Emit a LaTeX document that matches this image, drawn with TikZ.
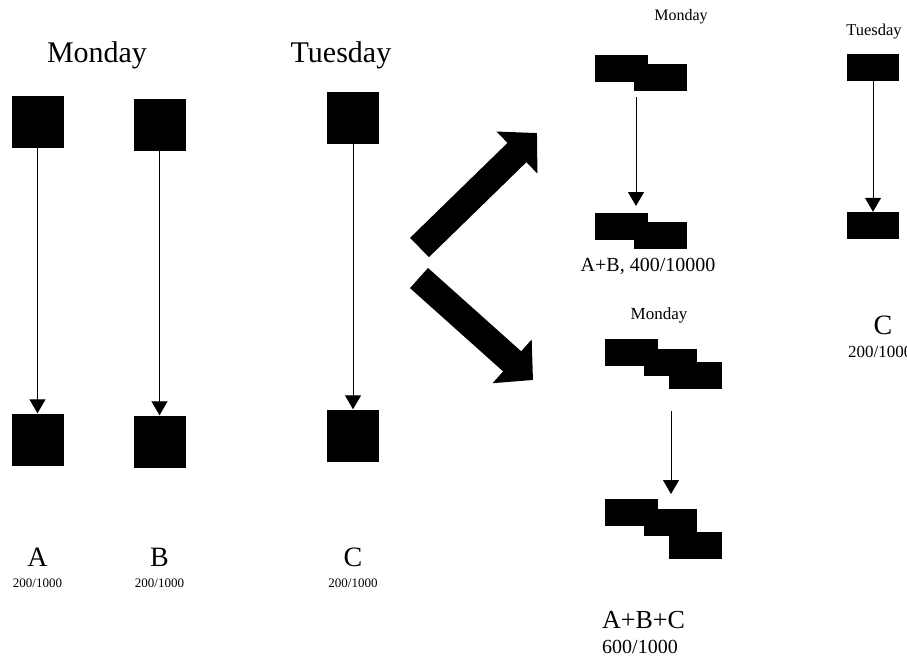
\documentclass[tikz,border=0pt]{standalone}
\usepackage{fontspec}
\setmainfont{Liberation Serif}
\usetikzlibrary{arrows.meta}
\tikzset{
  sq/.style={fill=black,inner sep=0pt,minimum width=52pt,minimum height=52pt},
  bar/.style={fill=black,inner sep=0pt,minimum width=53pt,minimum height=27pt},
  link/.style={-{Triangle[length=14pt,width=16pt]},line width=1pt},
  fat/.style={line width=27pt,-{Triangle[length=28pt,width=57pt]}},
  fs/.style={font=\fontsize{#1}{#1}\selectfont,inner sep=0pt}
}
\begin{document}
\begin{tikzpicture}[x=1pt,y=-1pt]
    \useasboundingbox(0,0)rectangle(907,657);
    % colonna sinistra
    \node[fs=30](mon)at(97,55){Monday};
    \node[fs=30](tue)at(341,55){Tuesday};
    \node[sq](a1)at(37.5,122){};
    \node[sq](a2)at(37.5,439.5){};
    \node[sq](b1)at(159.5,124.5){};
    \node[sq](b2)at(159.5,441.5){};
    \node[sq](c1)at(353,117.5){};
    \node[sq](c2)at(353,435.5){};
    \draw[link](a1)--(a2);
    \draw[link](b1)--(b2);
    \draw[link](c1)--(c2);
    \node[fs=28](la)at(37.5,557){A};
    \node[fs=13]at(37.5,583){200/1000};
    \node[fs=28](lb)at(159.5,557){B};
    \node[fs=13]at(159.5,583){200/1000};
    \node[fs=28](lc)at(353,557){C};
    \node[fs=13]at(353,583){200/1000};

    % frecce grosse
    \coordinate(up0)at(419.5,247.5);
    \coordinate(up1)at(537,133);
    \coordinate(dn0)at(419,278);
    \coordinate(dn1)at(533,380);
    \draw[fat](up0)--(up1);
    \draw[fat](dn0)--(dn1);

    % A+B
    \node[fs=16](mon2)at(681,17){Monday};
    \node[bar](p1)at(621.5,68.5){};
    \node[bar](p2)at(660.5,77.5){};
    \node[bar](q1)at(621.5,226.5){};
    \node[bar](q2)at(660.5,235.5){};
    \coordinate(pq0)at(636,97);
    \coordinate(pq1)at(636,206);
    \draw[link](pq0)--(pq1);
    \node[fs=20](lab)at(648,266){A+B, 400/10000};

    % C
    \node[fs=16.5](tue2)at(874,32){Tuesday};
    \node[bar,minimum width=52pt](t1)at(873,67.5){};
    \node[bar,minimum width=52pt](t2)at(873,225.5){};
    \draw[link](t1)--(t2);
    \node[fs=28](lc2)at(883,325){C};
    \node[fs=17,anchor=west]at(848,352){200/1000};

    % A+B+C
    \node[fs=17](mon3)at(659,315){Monday};
    \node[bar](r1)at(631,352){};
    \node[bar](r2)at(670.5,362.5){};
    \node[bar](r3)at(695.5,375){};
    \node[bar](s1)at(631,512.5){};
    \node[bar](s2)at(670.5,522.5){};
    \node[bar](s3)at(695.5,545.5){};
    \coordinate(rs0)at(671,411);
    \coordinate(rs1)at(671,494);
    \draw[link](rs0)--(rs1);
    \node[fs=26,anchor=west](labc)at(602,620){A+B+C};
    \node[fs=20,anchor=west]at(602,647){600/1000};
\end{tikzpicture}
\end{document}
